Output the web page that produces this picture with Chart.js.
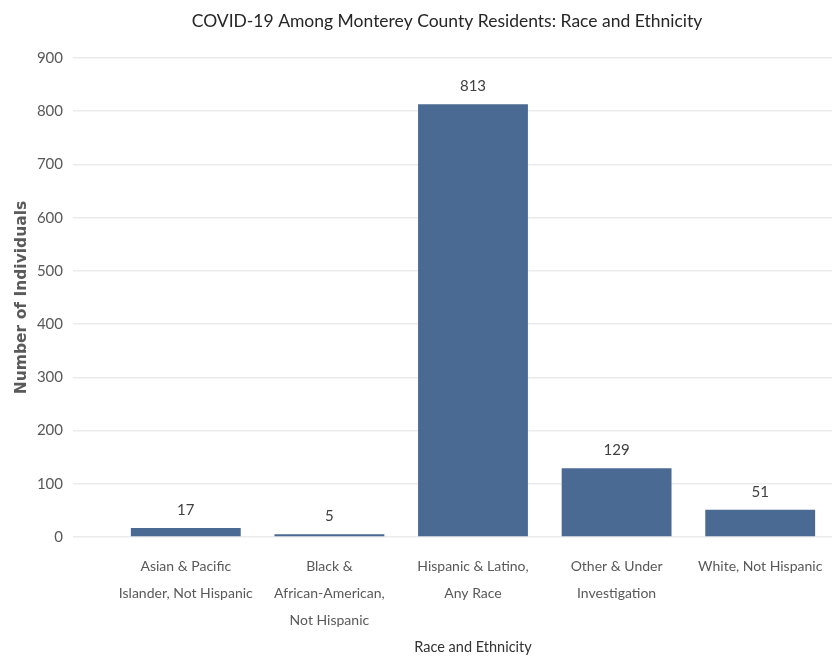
<!DOCTYPE html>
<html>
<head>
<meta charset="utf-8">
<script src="https://cdn.jsdelivr.net/npm/chart.js@4"></script>
<style>
html,body{margin:0;padding:0;background:#fff;}
#wrap{width:838px;height:657px;}
</style>
</head>
<body>
<div id="wrap"><canvas id="c" width="838" height="657"></canvas></div>
<script>
const chartTitle = "COVID-19 Among Monterey County Residents: Race and Ethnicity";
const categories = [
  ["Asian & Pacific", "Islander, Not Hispanic"],
  ["Black &", "African-American,", "Not Hispanic"],
  ["Hispanic & Latino,", "Any Race"],
  ["Other & Under", "Investigation"],
  ["White, Not Hispanic"]
];
const counts = [17, 5, 813, 129, 51];
const yTicks = [0, 100, 200, 300, 400, 500, 600, 700, 800, 900];
const xAxisTitle = "Race and Ethnicity";
const yAxisTitle = "Number of Individuals";

const FONT = "Lato, 'Liberation Sans', sans-serif";

const titlePlugin = {
  id: 'centeredTitle',
  afterDraw(chart) {
    const ctx = chart.ctx;
    ctx.save();
    ctx.font = "17.5px " + FONT;
    ctx.fillStyle = "#262626";
    ctx.textAlign = "center";
    ctx.textBaseline = "middle";
    ctx.fillText(chartTitle, chart.width / 2 + 28, 21);
    ctx.restore();
  }
};

const valueLabels = {
  id: 'valueLabels',
  afterDatasetsDraw(chart) {
    const ctx = chart.ctx;
    const meta = chart.getDatasetMeta(0);
    ctx.save();
    ctx.font = "15px " + FONT;
    ctx.fillStyle = "#404040";
    ctx.textAlign = "center";
    ctx.textBaseline = "middle";
    meta.data.forEach((bar, i) => {
      ctx.fillText(String(counts[i]), bar.x, bar.y - 18);
    });
    ctx.restore();
  }
};

new Chart(document.getElementById('c'), {
  type: 'bar',
  data: {
    labels: categories,
    datasets: [{
      data: counts,
      backgroundColor: '#4a6a94',
      borderWidth: 0,
      categoryPercentage: 1.0,
      barPercentage: 0.765
    }]
  },
  options: {
    responsive: false,
    animation: false,
    layout: { padding: { top: 58, right: 6, left: 0, bottom: 0 } },
    plugins: {
      legend: { display: false },
      tooltip: { enabled: false }
    },
    scales: {
      x: {
        afterFit(scale) { scale.height = 120; scale.paddingRight = 0; scale.paddingLeft = 0; },
        grid: { display: false, drawTicks: false },
        border: { display: false },
        ticks: {
          color: '#595959',
          font: { family: FONT, size: 14, lineHeight: 1.93 },
          padding: 16,
          maxRotation: 0,
          autoSkip: false
        },
        title: {
          display: true,
          text: xAxisTitle,
          color: '#333333',
          font: { family: FONT, size: 14.5 },
          padding: { top: 0, bottom: 1 }
        }
      },
      y: {
        min: 0,
        max: 900,
        afterBuildTicks(scale) { scale.ticks = yTicks.map(v => ({ value: v })); },
        afterFit(scale) { scale.width = 114; },
        grid: { color: '#ebebeb', lineWidth: 1.5, tickLength: 41, drawTicks: true, tickColor: '#ebebeb' },
        border: { display: false },
        ticks: {
          color: '#595959',
          font: { family: FONT, size: 15 },
          padding: 10
        },
        title: {
          display: true,
          text: yAxisTitle,
          color: '#5a5a5a',
          font: { family: "'DejaVu Sans', sans-serif", size: 15.5, weight: 'bold' },
          padding: { top: 13, bottom: 0 }
        }
      }
    }
  },
  plugins: [titlePlugin, valueLabels]
});
</script>
</body>
</html>
